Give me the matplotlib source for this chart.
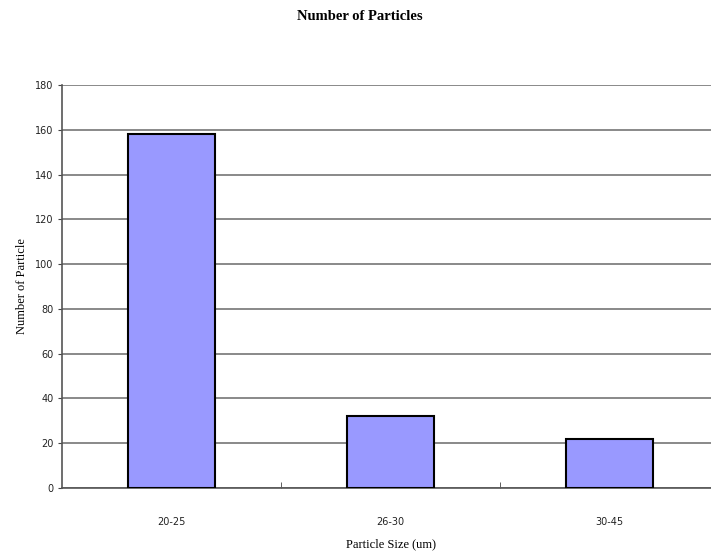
import numpy as np
import matplotlib.pyplot as plt

sizes = ['20-25', '26-30', '30-45']
counts = [158, 32, 22]
yticks = list(range(0, 181, 20))

fig = plt.figure(figsize=(7.11, 5.52), dpi=100)
# plot area runs off the right edge like the original
ax = fig.add_axes([62/711, (552-488)/552, 657/711, (488-85)/552])

x = np.arange(len(sizes))
ax.bar(x, counts, width=0.4, color='#9999ff', edgecolor='black', linewidth=1.5, zorder=3)

ax.set_xlim(-0.5, 2.5)
ax.set_ylim(0, 180)
ax.set_yticks(yticks)
ax.set_yticklabels([str(v) for v in yticks], fontsize=7, family='DejaVu Sans', color='#222222')
ax.set_xticks(x)
ax.set_xticklabels(sizes, fontsize=7, family='DejaVu Sans', color='#222222')
ax.set_xticks([0.5, 1.5], minor=True)
ax.tick_params(axis='x', which='major', length=0, pad=21)
ax.tick_params(axis='x', which='minor', length=4, direction='in', color='#444444')
ax.tick_params(axis='y', length=3, direction='out', color='#444444', pad=3)

ax.yaxis.grid(True, color='#808080', linewidth=1.3)
ax.set_axisbelow(True)
for s in ['top', 'right']:
    ax.spines[s].set_visible(False)
ax.spines['left'].set_color('#555555')
ax.spines['bottom'].set_color('#555555')
ax.spines['left'].set_linewidth(1.2)
ax.spines['bottom'].set_linewidth(1.2)

ax.set_xlabel('Particle Size (um)', family='Liberation Serif', fontsize=9, labelpad=8)
ax.set_ylabel('Number of Particle', family='Liberation Serif', fontsize=9, labelpad=5)
fig.text(360/711, 1 - 17/552, 'Number of Particles', family='Liberation Serif',
         fontsize=10.5, fontweight='bold', ha='center', va='center')

fig.savefig('out.png', dpi=100)
